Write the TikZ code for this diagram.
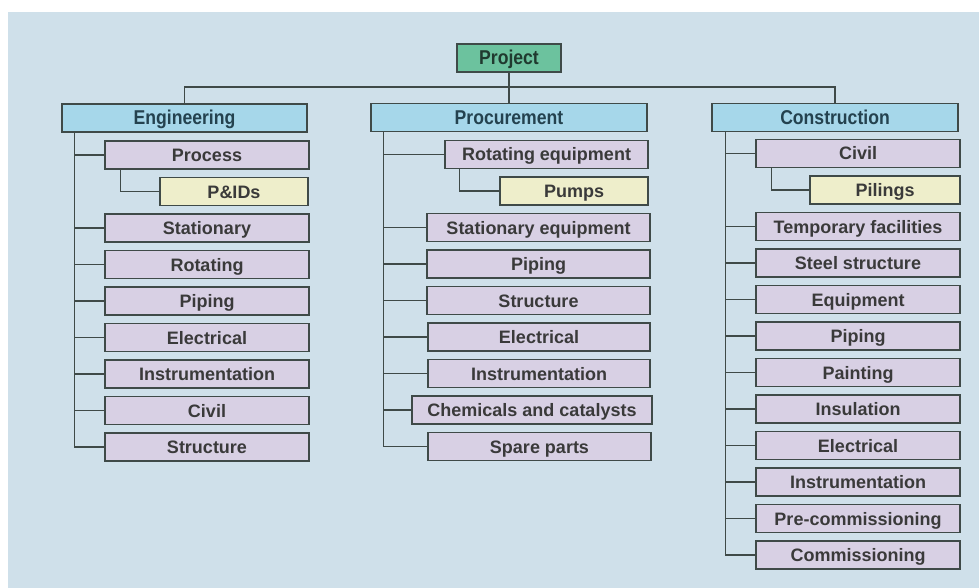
\documentclass[tikz,border=0pt]{standalone}
\usepackage{fontspec}
\setmainfont{Liberation Sans}
\newfontfamily\headfont[FakeStretch=0.88]{Liberation Sans}
\usepackage{tikz}
\usetikzlibrary{positioning}

\definecolor{panelcol}{HTML}{CFE0EA}
\definecolor{headcol}{HTML}{A6D7EA}
\definecolor{subcol}{HTML}{D8D0E4}
\definecolor{leafcol}{HTML}{EEEECB}
\definecolor{projcol}{HTML}{6CC29E}
\definecolor{linecol}{HTML}{3F4A48}
\definecolor{textcol}{HTML}{3A3A3A}
\definecolor{headtext}{HTML}{24424F}

\begin{document}
\begin{tikzpicture}[x=1pt, y=-1pt,
  box/.style={draw=linecol, line width=1.4pt, inner sep=0pt, minimum height=28pt},
  head/.style={box, fill=headcol, text=headtext, text height=14pt, text depth=0pt, font=\headfont\bfseries\fontsize{20}{22}\selectfont},
  sub/.style={box, fill=subcol, text=textcol, text height=13pt, text depth=0pt, font=\bfseries\fontsize{18}{20}\selectfont},
  leaf/.style={sub, fill=leafcol},
  link/.style={draw=linecol, line width=1.5pt}]
  \useasboundingbox (0,0) rectangle (979,588);
  \fill[panelcol] (8,12) rectangle (979,588);

  % Top level
  \node[head, fill=projcol, text=black!70!projcol, minimum width=104pt] (proj) at (509,58) {Project};
  \coordinate (bus) at (509,87);

  % Three branches
  \node[head, minimum width=245pt] (eng) at (184.5,118) {Engineering};
  \node[head, minimum width=276pt] (proc) at (509,117.5) {Procurement};
  \node[head, minimum width=246pt] (cons) at (835,117.5) {Construction};

  % Engineering items
  \node[sub, minimum width=204pt] (process) at (207,155) {Process};
  \node[leaf, minimum width=148pt] (pids) at (234,191.5) {P\&IDs};
  \node[sub, minimum width=204pt] (estat) at (207,228) {Stationary};
  \node[sub, minimum width=204pt] (erot) at (207,264.5) {Rotating};
  \node[sub, minimum width=204pt] (epip) at (207,301) {Piping};
  \node[sub, minimum width=204pt] (eelec) at (207,337.5) {Electrical};
  \node[sub, minimum width=204pt] (einst) at (207,374) {Instrumentation};
  \node[sub, minimum width=204pt] (ecivil) at (207,410.5) {Civil};
  \node[sub, minimum width=204pt] (estruc) at (207,447) {Structure};

  % Procurement items
  \node[sub, minimum width=203pt] (rotequip) at (546.5,154.5) {Rotating equipment};
  \node[leaf, minimum width=148pt] (pumps) at (574,191) {Pumps};
  \node[sub, minimum width=223pt] (pstat) at (538.5,227.5) {Stationary equipment};
  \node[sub, minimum width=223pt] (ppip) at (538.5,264) {Piping};
  \node[sub, minimum width=223pt] (pstruc) at (538.5,300.5) {Structure};
  \node[sub, minimum width=222pt] (pelec) at (539,337) {Electrical};
  \node[sub, minimum width=222pt] (pinst) at (539,373.5) {Instrumentation};
  \node[sub, minimum width=240pt] (pchem) at (532,410) {Chemicals and catalysts};
  \node[sub, minimum width=223pt] (pspare) at (539.5,446.5) {Spare parts};

  % Construction items
  \node[sub, minimum width=204pt] (civil) at (858,153.5) {Civil};
  \node[leaf, minimum width=150pt] (pilings) at (885,190) {Pilings};
  \node[sub, minimum width=204pt] (ctemp) at (858,226.5) {Temporary facilities};
  \node[sub, minimum width=204pt] (csteel) at (858,263) {Steel structure};
  \node[sub, minimum width=204pt] (cequip) at (858,299.5) {Equipment};
  \node[sub, minimum width=204pt] (cpip) at (858,336) {Piping};
  \node[sub, minimum width=204pt] (cpaint) at (858,372.5) {Painting};
  \node[sub, minimum width=204pt] (cinsul) at (858,409) {Insulation};
  \node[sub, minimum width=204pt] (celec) at (858,445.5) {Electrical};
  \node[sub, minimum width=204pt] (cinst) at (858,482) {Instrumentation};
  \node[sub, minimum width=204pt] (cprecom) at (858,518.5) {Pre-commissioning};
  \node[sub, minimum width=204pt] (ccom) at (858,555) {Commissioning};

  % Bus lines
  \draw[link] (proj.south) -- (bus) -- (proc.north);
  \draw[link] (eng.north) |- (bus) -| (cons.north);

  % Spines
  \foreach \n in {process, estat, erot, epip, eelec, einst, ecivil, estruc}
    \draw[link] ([xshift=13pt]eng.south west) |- (\n.west);
  \foreach \n in {rotequip, pstat, ppip, pstruc, pelec, pinst, pchem, pspare}
    \draw[link] ([xshift=13pt]proc.south west) |- (\n.west);
  \foreach \n in {civil, ctemp, csteel, cequip, cpip, cpaint, cinsul, celec, cinst, cprecom, ccom}
    \draw[link] ([xshift=14pt]cons.south west) |- (\n.west);

  % Second level
  \draw[link] ([xshift=16pt]process.south west) |- (pids.west);
  \draw[link] ([xshift=15pt]rotequip.south west) |- (pumps.west);
  \draw[link] ([xshift=16pt]civil.south west) |- (pilings.west);
\end{tikzpicture}
\end{document}
